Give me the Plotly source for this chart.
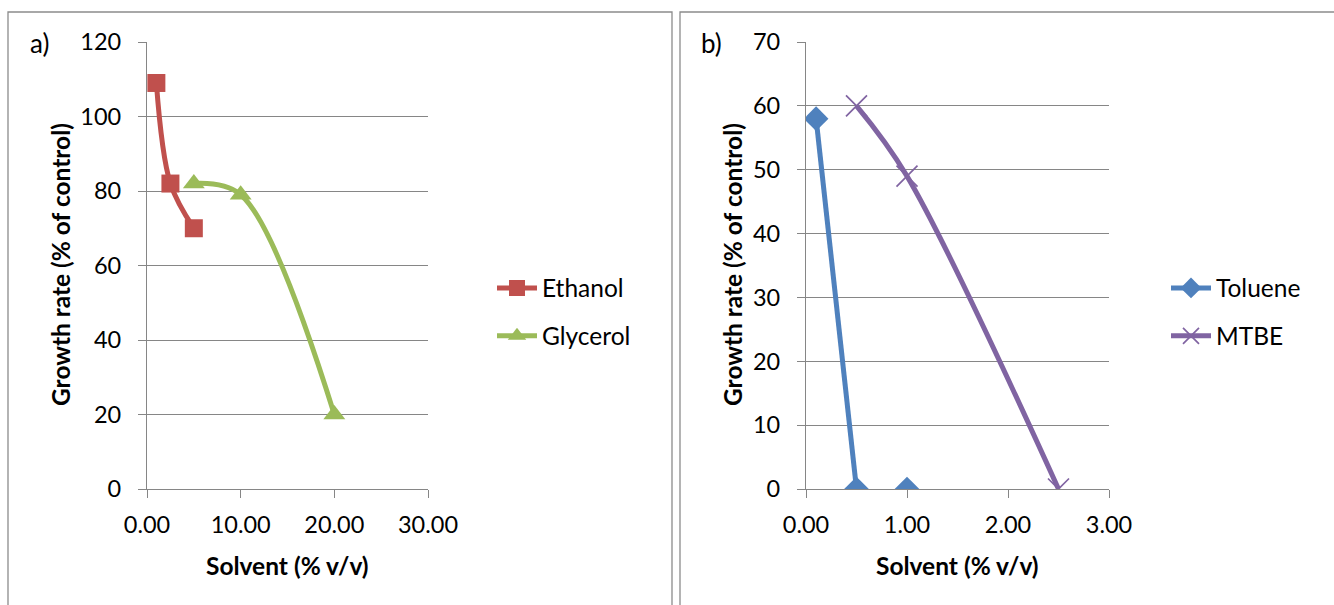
import plotly.graph_objects as go

W, H = 1334, 605

# ---- data ----
ethanol_x = [1.0, 2.5, 5.0]
ethanol_y = [109, 82, 70]
glycerol_x = [5.0, 10.0, 20.0]
glycerol_y = [82, 79, 20]
toluene_x = [0.1, 0.5, 1.0]
toluene_y = [58, 0, 0]
mtbe_x = [0.5, 1.0, 2.5]
mtbe_y = [60, 49, 0]

xa_ticks = [0, 10, 20, 30]
ya_ticks = [0, 20, 40, 60, 80, 100, 120]
xb_ticks = [0, 1, 2, 3]
yb_ticks = [0, 10, 20, 30, 40, 50, 60, 70]

FONT = "Lato, Carlito, Calibri, sans-serif"
GRID = "#868686"
C_ETH, C_GLY, C_TOL, C_MTBE = "#C0504D", "#9BBB59", "#4F81BD", "#8064A2"
TICK_SIZE = 23.5
TITLE_SIZE = 24.5
LEG_SIZE = 24.5
LW = 5

def px(x):
    return x / W

def py(y):
    return 1 - y / H

fig = go.Figure()

fig.add_trace(go.Scatter(x=ethanol_x, y=ethanol_y, name="Ethanol", mode="lines+markers",
                         line=dict(color=C_ETH, width=LW, shape="spline"),
                         marker=dict(symbol="square", size=18, color=C_ETH),
                         xaxis="x", yaxis="y", legend="legend", legendgroup="e"))
fig.add_trace(go.Scatter(x=glycerol_x, y=glycerol_y, name="Glycerol", mode="lines+markers",
                         line=dict(color=C_GLY, width=LW, shape="spline"),
                         marker=dict(symbol="triangle-up", size=19, color=C_GLY),
                         xaxis="x", yaxis="y", legend="legend", legendgroup="g"))
fig.add_trace(go.Scatter(x=toluene_x[:2], y=toluene_y[:2], name="Toluene", mode="lines+markers",
                         line=dict(color=C_TOL, width=LW, shape="spline"),
                         marker=dict(symbol="diamond", size=19, color=C_TOL),
                         xaxis="x2", yaxis="y2", legend="legend2", legendgroup="t"))
fig.add_trace(go.Scatter(x=toluene_x[2:], y=toluene_y[2:], name="Toluene", mode="markers",
                         marker=dict(symbol="diamond", size=19, color=C_TOL),
                         xaxis="x2", yaxis="y2", legend="legend2", legendgroup="t",
                         showlegend=False))
fig.add_trace(go.Scatter(x=mtbe_x, y=mtbe_y, name="MTBE", mode="lines+markers",
                         line=dict(color=C_MTBE, width=LW, shape="spline"),
                         marker=dict(symbol="x-thin-open", size=21, color=C_MTBE,
                                     line=dict(color=C_MTBE, width=1.7)),
                         xaxis="x2", yaxis="y2", legend="legend2", legendgroup="m"))

ydom = [py(489), py(42)]

def xaxis(dom, rng, ticks, anchor):
    return dict(domain=dom, range=rng, tickvals=ticks, tickformat=".2f",
                showgrid=False, showline=True, linecolor=GRID, linewidth=1.3,
                ticks="outside", ticklen=8, tickcolor=GRID, tickwidth=1.3,
                tickfont=dict(family=FONT, size=TICK_SIZE, color="#000"),
                ticklabelstandoff=7, zeroline=False, automargin=False, anchor=anchor,
                fixedrange=True)

def yaxis(rng, ticks, anchor):
    return dict(domain=ydom, range=rng, tickvals=ticks,
                showgrid=True, gridcolor=GRID, gridwidth=1.3,
                showline=True, linecolor=GRID, linewidth=1.3,
                ticks="outside", ticklen=8, tickcolor=GRID, tickwidth=1.3,
                tickfont=dict(family=FONT, size=TICK_SIZE, color="#000"),
                ticklabelstandoff=12, zeroline=False, automargin=False, anchor=anchor,
                fixedrange=True)

fig.update_layout(
    width=W, height=H,
    margin=dict(l=0, r=0, t=0, b=0),
    paper_bgcolor="white", plot_bgcolor="white",
    font=dict(family=FONT, size=TICK_SIZE, color="#000"),
    xaxis=xaxis([px(147), px(428)], [0, 30], xa_ticks, "y"),
    yaxis=yaxis([0, 120], ya_ticks, "x"),
    xaxis2=xaxis([px(806), px(1109)], [0, 3], xb_ticks, "y2"),
    yaxis2=yaxis([0, 70], yb_ticks, "x2"),
    legend=dict(x=px(492), y=py(312), xanchor="left", yanchor="middle",
                font=dict(family=FONT, size=LEG_SIZE, color="#000"),
                bgcolor="rgba(0,0,0,0)", tracegroupgap=13, itemwidth=40),
    legend2=dict(x=px(1166), y=py(312), xanchor="left", yanchor="middle",
                 font=dict(family=FONT, size=LEG_SIZE, color="#000"),
                 bgcolor="rgba(0,0,0,0)", tracegroupgap=13, itemwidth=40),
    showlegend=True,
)

# panel borders
fig.add_shape(type="rect", xref="paper", yref="paper",
              x0=px(8), x1=px(672), y0=py(640), y1=py(12),
              line=dict(color="#8c8c8c", width=1.3), fillcolor="rgba(0,0,0,0)", layer="below")
fig.add_shape(type="rect", xref="paper", yref="paper",
              x0=px(680), x1=px(1360), y0=py(640), y1=py(12),
              line=dict(color="#8c8c8c", width=1.3), fillcolor="rgba(0,0,0,0)", layer="below")

annos = [
    dict(text="a)", x=px(39), y=py(43), size=26),
    dict(text="b)", x=px(711), y=py(43), size=26),
    dict(text="<b>Solvent (% v/v)</b>", x=px(287), y=py(565), size=TITLE_SIZE),
    dict(text="<b>Solvent (% v/v)</b>", x=px(957), y=py(565), size=TITLE_SIZE),
    dict(text="<b>Growth rate (% of control)</b>", x=px(60), y=py(265), textangle=-90, size=TITLE_SIZE),
    dict(text="<b>Growth rate (% of control)</b>", x=px(732), y=py(265), textangle=-90, size=TITLE_SIZE),
]
for a in annos:
    size = a.pop("size")
    fig.add_annotation(xref="paper", yref="paper", showarrow=False,
                       xanchor="center", yanchor="middle",
                       font=dict(family=FONT, size=size, color="#000"), **a)

fig.write_html("out.html")
